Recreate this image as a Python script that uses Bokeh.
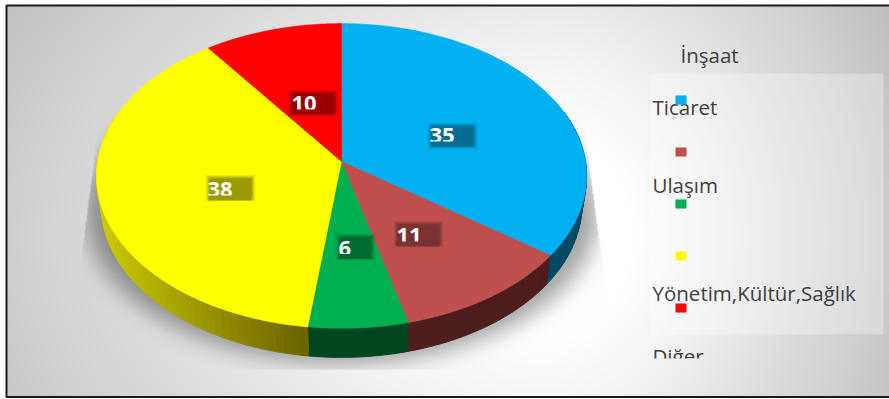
import numpy as np
from bokeh.plotting import figure
from bokeh.models import Range1d
from bokeh.embed import file_html
from bokeh.resources import INLINE
from bokeh.core.properties import value

categories = ["İnşaat", "Ticaret", "Ulaşım", "Yönetim,Kültür,Sağlık", "Diğer"]
values = [35, 11, 6, 38, 10]
colors = ["#00B0F0", "#C0504D", "#00B050", "#FFFF00", "#FF0000"]
wall_left = ["#00506F", "#4E1E1E", "#004720", "#C8C800", "#FF0000"]
wall_right = ["#004A68", "#4E1E1E", "#004720", "#6B6400", "#FF0000"]
box_colors = ["#066E94", "#7A3232", "#006A33", "#999900", "#9A0000"]

W, H = 889, 399
CX, CY, A, B, K = 341.0, 161.0, 244.0, 151.0, 0.095
DEPTH, WALL_SCALE = 29.0, 0.98
TEXT_SHIFT_LEGEND, TEXT_SHIFT_LABEL = 9.5, 8.5


def project(theta, scale=1.0, dy=0.0):
    u, v = np.sin(theta), np.cos(theta)
    d = 1 + K * v
    return CX + scale * A * u / d, CY - B * v / d + dy


def hex_rgb(c):
    return np.array([int(c[i:i + 2], 16) for i in (1, 3, 5)], float)


# ---- background raster (gradient + soft shadow) ----
yy, xx = np.mgrid[0:H, 0:W].astype(float)
dx = xx - 545
dx = np.where(dx < 0, dx / 660, dx / 400)
dy = (yy - 235) / 470
d = np.sqrt(dx ** 2 + dy ** 2)
t = np.clip((d - 0.22) / 0.85, 0, 1)
bg = 255 - 72 * t ** 1.05

ell = (((xx - 341) / 256) ** 2 + ((yy - 212) / 150) ** 2) < 1
mask = ell.astype(float)
kernel = np.exp(-np.arange(-30, 31) ** 2 / (2 * 11.0 ** 2))
kernel /= kernel.sum()
mask = np.apply_along_axis(lambda r: np.convolve(r, kernel, "same"), 0, mask)
mask = np.apply_along_axis(lambda r: np.convolve(r, kernel, "same"), 1, mask)
left_line = 97 - (yy - 130) * 17 / 130
right_line = 585 + (yy - 140) * 16 / 120
mask = np.where((xx < left_line) | (xx > right_line) | (yy > 368) | (yy < 100), 0, mask)
shaded = bg * (1 - 0.36 * mask)


def to_rgba(gray):
    g = np.clip(gray, 0, 255).astype(np.uint32)
    return (255 << 24) | (g << 16) | (g << 8) | g


p = figure(width=W, height=H, x_range=Range1d(0, W), y_range=Range1d(H, 0),
           output_backend="svg", toolbar_location=None, min_border=0)
p.axis.visible = False
p.grid.visible = False
p.outline_line_color = None
p.background_fill_color = "white"
p.border_fill_color = "white"

FX0, FX1, FY0, FY1 = 6, W, 5, 396
img = to_rgba(shaded)[FY0:FY1, FX0:FX1]
p.image_rgba(image=[img], x=FX0, y=FY0, dw=FX1 - FX0, dh=FY1 - FY0)

# legend panel
p.quad(left=650, right=883, top=73, bottom=334, fill_color="white", fill_alpha=0.3, line_color=None)

# ---- pie ----
shares = np.cumsum([0] + values) / sum(values) * 2 * np.pi
# walls
wx, wy, wc = [], [], []
for i, c in enumerate(colors):
    n = max(4, values[i] * 2)
    th = np.linspace(shares[i], shares[i + 1], n + 1)
    for j in range(n):
        a, b = th[j], th[j + 1]
        if np.cos((a + b) / 2) > 0.35:
            continue
        x1, y1 = project(a)
        x2, y2 = project(b)
        x3, y3 = project(b, WALL_SCALE, DEPTH)
        x4, y4 = project(a, WALL_SCALE, DEPTH)
        wx.append([x1, x2, x3, x4])
        wy.append([y1, y2, y3, y4])
        f = j / max(1, n - 1)
        if i == 3:  # yellow wall runs dark -> light along its arc
            f = np.clip((x1 - 105) / (307 - 105), 0, 1)
        rgb = hex_rgb(wall_left[i]) * (1 - f) + hex_rgb(wall_right[i]) * f
        wc.append("#%02x%02x%02x" % tuple(int(v) for v in rgb))
p.patches(wx, wy, fill_color=wc, line_color=wc, line_width=1)

# top slices
for i, c in enumerate(colors):
    th = np.linspace(shares[i], shares[i + 1], 120)
    x, y = project(th)
    p.patch(np.r_[CX, x], np.r_[CY, y], fill_color=c, line_color=c, line_width=0.5)

# ---- data labels ----
label_x0 = [427, 393, 335, 205, 287]
label_y0 = [122, 220, 233, 174, 89]
label_w = [50, 50, 40, 50, 51]
label_h = 27
label_clip = [141, 241, 253.5, 195, 109]
text_x = [429, 396, 338, 207, 291]
for i, v in enumerate(values):
    x0, y0, w = label_x0[i], label_y0[i], label_w[i]
    for inset, al in ((0, 0.12), (1, 0.2), (2, 0.35), (3, 0.55), (4, 1.0)):
        p.quad(left=x0 + inset, right=x0 + w - inset, top=y0 + inset, bottom=y0 + label_h - inset,
               fill_color=box_colors[i], fill_alpha=al, line_color=None)
    p.text(x=[text_x[i]], y=[label_clip[i] + 2.5 - TEXT_SHIFT_LABEL], text=[str(v)], text_color="white",
           text_font=value("Open Sans"), text_font_size="22px", text_font_style="bold",
           text_baseline="alphabetic", text_align="left")
    p.quad(left=x0 + 3, right=x0 + w - 4, top=label_clip[i], bottom=label_clip[i] + 5,
           fill_color=box_colors[i], line_color=None)

# ---- legend ----
leg_x = [680, 652, 652, 652, 652]
leg_base = [64, 116, 194, 302, 365]
for i, cat in enumerate(categories):
    p.text(x=[leg_x[i]], y=[leg_base[i] - TEXT_SHIFT_LEGEND], text=[cat], text_color="#404040",
           text_font=value("Open Sans"), text_font_size="20.5px",
           text_baseline="alphabetic", text_align="left")
# cover under the clipped last entry
cy0 = 358
p.image_rgba(image=[to_rgba(shaded)[cy0:372, 645:720]], x=645, y=cy0, dw=75, dh=372 - cy0)

p.rect(x=[680.5] * 5, y=[99.5 + 52 * i for i in range(5)], width=11, height=9,
       fill_color=colors, line_color=None)

# ---- frame ----
p.line([W + 2, 6, 6, W + 2], [5, 5, 396.5, 396.5], line_color="#1a1a1a", line_width=2)

open("out.html", "w").write(file_html(p, INLINE))
